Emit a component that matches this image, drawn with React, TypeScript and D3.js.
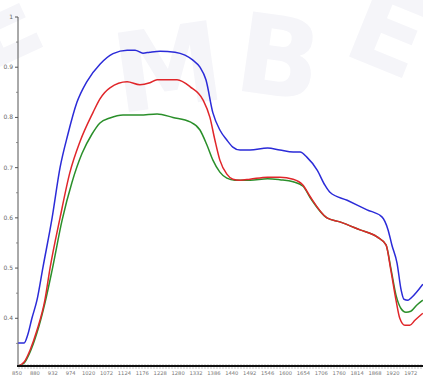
import React from "react";
import * as d3 from "d3";

// Wavelength tick labels along the bottom axis (nm)
const tickLabels = [850, 880, 932, 974, 1020, 1072, 1124, 1176, 1228, 1280, 1332, 1386, 1440, 1492, 1546, 1600, 1654, 1706, 1760, 1814, 1868, 1920, 1972];
const yTicks = [0.4, 0.5, 0.6, 0.7, 0.8, 0.9, 1];

// Spectra: [wavelength nm, absorbance]
const blueSeries: [number, number][] = [
  [852, 0.351], [862, 0.351], [868, 0.367], [875, 0.4], [886, 0.436], [903, 0.5], [930, 0.6], [949, 0.7],
  [967, 0.765], [990, 0.83], [1016, 0.872], [1053, 0.906], [1091, 0.927], [1132, 0.934], [1155, 0.934],
  [1178, 0.928], [1198, 0.93], [1228, 0.932], [1271, 0.93], [1300, 0.924], [1323, 0.914], [1344, 0.9],
  [1362, 0.875], [1383, 0.809], [1404, 0.775], [1425, 0.755], [1443, 0.741], [1464, 0.735], [1493, 0.735],
  [1546, 0.739], [1583, 0.735], [1623, 0.731], [1644, 0.731], [1664, 0.721], [1694, 0.695], [1717, 0.665],
  [1732, 0.651], [1784, 0.635], [1844, 0.616], [1888, 0.602], [1906, 0.576], [1917, 0.546], [1932, 0.51],
  [1944, 0.456], [1952, 0.438], [1964, 0.436], [1975, 0.442], [2007, 0.468],
];

const redSeries: [number, number][] = [
  [852, 0.305], [862, 0.313], [872, 0.337], [886, 0.376], [909, 0.436], [924, 0.5], [949, 0.6], [972, 0.69],
  [998, 0.752], [1033, 0.81], [1053, 0.837], [1082, 0.859], [1132, 0.871], [1169, 0.865], [1198, 0.869],
  [1219, 0.875], [1277, 0.875], [1315, 0.861], [1353, 0.835], [1374, 0.8], [1389, 0.755], [1404, 0.715],
  [1425, 0.687], [1443, 0.677], [1464, 0.675], [1493, 0.677], [1546, 0.681], [1583, 0.681], [1623, 0.677],
  [1653, 0.665], [1673, 0.643], [1723, 0.6], [1762, 0.592], [1823, 0.576], [1874, 0.562], [1900, 0.546],
  [1914, 0.496], [1929, 0.436], [1940, 0.4], [1955, 0.386], [1969, 0.386], [1984, 0.396], [2007, 0.41],
];

const greenSeries: [number, number][] = [
  [852, 0.305], [862, 0.311], [872, 0.333], [886, 0.371], [909, 0.43], [930, 0.496], [954, 0.596], [977, 0.67],
  [1003, 0.728], [1030, 0.767], [1053, 0.789], [1082, 0.799], [1120, 0.805], [1169, 0.805], [1219, 0.807],
  [1265, 0.8], [1315, 0.791], [1344, 0.775], [1365, 0.745], [1383, 0.715], [1404, 0.691], [1425, 0.679],
  [1449, 0.675], [1493, 0.675], [1546, 0.678], [1583, 0.676], [1623, 0.672], [1653, 0.663], [1673, 0.641],
  [1723, 0.6], [1762, 0.592], [1823, 0.576], [1874, 0.562], [1900, 0.546], [1914, 0.5], [1929, 0.446],
  [1943, 0.42], [1958, 0.412], [1972, 0.414], [1989, 0.426], [2007, 0.436],
];

const W = 423;
const H = 378;
const left = 17;
const step = 17.9;
const top = 17;
const bottom = 366;

export default function App() {
  // Tick labels are evenly spaced, so the wavelength axis is piecewise linear between them.
  const domain = [...tickLabels, 2024];
  const x = d3.scaleLinear().domain(domain).range(domain.map((_, i) => left + i * step));
  const y = d3.scaleLinear().domain([0.3 + 0.00498, 1]).range([bottom, top]);

  const line = d3
    .line<[number, number]>()
    .x((d) => x(d[0]))
    .y((d) => y(d[1]))
    .curve(d3.curveMonotoneX);

  const series = [
    { data: blueSeries, color: "#2b2bd8" },
    { data: greenSeries, color: "#2a8f2a" },
    { data: redSeries, color: "#e0262a" },
  ];

  const minor = d3.range(0.35, 1.0, 0.1);
  const xMinor = d3.range(left + 2, W, 3);

  return (
    <svg
      width={W}
      height={H}
      style={{ position: "fixed", left: 0, top: 0, background: "#ffffff" }}
      fontFamily="DejaVu Sans, sans-serif"
    >
      {/* faint background lettering */}
      <g fill="#f5f5f9" fontFamily="DejaVu Sans, sans-serif" fontWeight="bold" fontSize={110}>
        <text x={-30} y={60} transform="rotate(-25 10 40)">E</text>
        <text x={112} y={108} transform="rotate(-8 155 60)">M</text>
        <text x={238} y={95} transform="rotate(8 275 50)">B</text>
        <text x={352} y={70} transform="rotate(22 390 30)">E</text>
      </g>

      {/* y axis */}
      <line x1={left + 1} x2={left + 1} y1={top} y2={bottom} stroke="#555" strokeWidth={1} />
      {yTicks.map((t) => (
        <g key={t}>
          <line x1={left - 2} x2={left + 1} y1={y(t)} y2={y(t)} stroke="#555" strokeWidth={1} />
          <text x={left - 4} y={y(t) + 2} fontSize={6} fill="#666" textAnchor="end">
            {t === 1 ? "1" : t.toFixed(1)}
          </text>
        </g>
      ))}
      {minor.map((t) => (
        <line key={t} x1={left - 1} x2={left + 1} y1={y(t)} y2={y(t)} stroke="#777" strokeWidth={0.8} />
      ))}

      {/* spectra */}
      {series.map((s, i) => (
        <path key={i} d={line(s.data) ?? ""} fill="none" stroke={s.color} strokeWidth={1.5} />
      ))}

      {/* x axis */}
      {xMinor.map((px, i) => (
        <line key={i} x1={px} x2={px} y1={bottom - 2} y2={bottom + 3} stroke="#999" strokeWidth={0.6} />
      ))}
      <line x1={left} x2={W} y1={bottom} y2={bottom} stroke="#111" strokeWidth={2.2} />
      {tickLabels.map((t) => (
        <text key={t} x={x(t)} y={bottom + 9} fontSize={5.2} fill="#777" textAnchor="middle">
          {t}
        </text>
      ))}
    </svg>
  );
}
